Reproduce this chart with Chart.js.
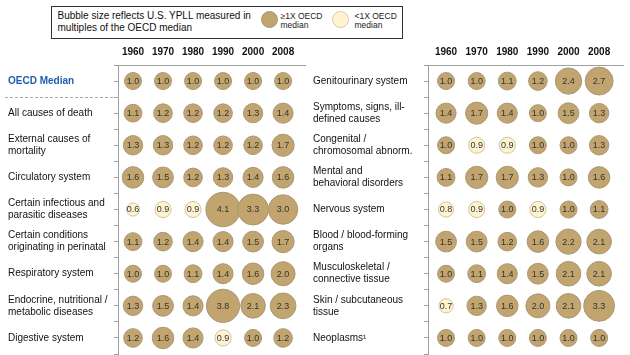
<!DOCTYPE html>
<html>
<head>
<meta charset="utf-8">
<script src="https://cdn.jsdelivr.net/npm/chart.js@4/dist/chart.umd.min.js"></script>
<style>
  html, body { margin:0; padding:0; background:#fff; }
  body { width:630px; height:355px; position:relative; overflow:hidden; font-family: Arial, "Liberation Sans", sans-serif; }
  #left { position:absolute; left:0; top:0; }
  #right { position:absolute; left:310px; top:0; }
  #legend { position:absolute; left:51px; top:6px; width:350px; height:31px; border:1.5px solid #333; background:#fff; z-index:2; }
  #legend .t { position:absolute; left:5.5px; top:2.5px; font-size:10px; line-height:12px; color:#111; white-space:nowrap; }
  #legend .dot { position:absolute; width:17px; height:17px; border-radius:50%; top:4px; box-sizing:border-box; }
  #legend .lab { position:absolute; top:4.75px; font-size:8.5px; line-height:9.5px; color:#222; white-space:nowrap; }
</style>
</head>
<body>
<canvas id="left" width="310" height="355"></canvas>
<canvas id="right" width="320" height="355"></canvas>
<div id="legend">
  <div class="t">Bubble size reflects U.S. YPLL measured in<br>multiples of the OECD median</div>
  <div class="dot" style="left:209px;background:#C2A46E;border:1px solid #A89878;"></div>
  <div class="lab" style="left:228.5px;">≥1X OECD<br>median</div>
  <div class="dot" style="left:280px;background:#FFF4CF;border:1px solid #D6CBA8;"></div>
  <div class="lab" style="left:302.5px;">&lt;1X OECD<br>median</div>
</div>
<script>
const years = ['1960','1970','1980','1990','2000','2008'];

const leftRows = ['OECD Median','All causes of death',['External causes of','mortality'],'Circulatory system',
  ['Certain infectious and','parasitic diseases'],['Certain conditions','originating in perinatal'],
  'Respiratory system',['Endocrine, nutritional /','metabolic diseases'],'Digestive system'];
const leftValues = [
  [1.0,1.0,1.0,1.0,1.0,1.0],
  [1.1,1.2,1.2,1.2,1.3,1.4],
  [1.3,1.3,1.2,1.2,1.2,1.7],
  [1.6,1.5,1.2,1.3,1.4,1.6],
  [0.6,0.9,0.9,4.1,3.3,3.0],
  [1.1,1.2,1.4,1.4,1.5,1.7],
  [1.0,1.0,1.1,1.4,1.6,2.0],
  [1.3,1.5,1.4,3.8,2.1,2.3],
  [1.2,1.6,1.4,0.9,1.0,1.2]
];

const rightRows = ['Genitourinary system',['Symptoms, signs, ill-','defined causes'],['Congenital /','chromosomal abnorm.'],
  ['Mental and','behavioral disorders'],'Nervous system',['Blood / blood-forming','organs'],
  ['Musculoskeletal /','connective tissue'],['Skin / subcutaneous','tissue'],'Neoplasms¹'];
const rightValues = [
  [1.0,1.0,1.1,1.2,2.4,2.7],
  [1.4,1.7,1.4,1.0,1.5,1.3],
  [1.0,0.9,0.9,1.0,1.0,1.3],
  [1.1,1.7,1.7,1.3,1.0,1.6],
  [0.8,0.9,1.0,0.9,1.0,1.1],
  [1.5,1.5,1.2,1.6,2.2,2.1],
  [1.0,1.1,1.4,1.5,2.1,2.1],
  [0.7,1.3,1.6,2.0,2.1,3.3],
  [1.0,1.0,1.0,1.0,1.0,1.0]
];

const FONT = 'Arial, "Liberation Sans", sans-serif';
Chart.defaults.font.family = FONT;

const DARK = '#C2A46E', DARK_B = '#A89878', LIGHT = '#FFF4CF', LIGHT_B = '#D0C49E';

function points(values) {
  const pts = [];
  values.forEach((row, r) => row.forEach((v, c) => pts.push({x: c, y: r, v: v})));
  return pts;
}

const valueLabels = {
  id: 'valueLabels',
  afterDatasetsDraw(chart) {
    const ctx = chart.ctx;
    ctx.save();
    ctx.font = '9px ' + FONT;
    ctx.fillStyle = '#333';
    ctx.textAlign = 'center';
    ctx.textBaseline = 'middle';
    chart.data.datasets.forEach((ds, i) => {
      chart.getDatasetMeta(i).data.forEach((el, j) => {
        ctx.fillText(ds.data[j].v.toFixed(1), el.x, el.y + 0.5);
      });
    });
    ctx.restore();
  }
};

const dashLine = {
  id: 'dashLine',
  afterDraw(chart, args, opts) {
    if (!opts.on) return;
    const ctx = chart.ctx;
    const y = Math.round(chart.scales.y.getPixelForValue(0.5)) + 0.5;
    ctx.save();
    ctx.strokeStyle = '#AAAAAA';
    ctx.lineWidth = 1;
    ctx.setLineDash([3, 2]);
    ctx.beginPath();
    ctx.moveTo(5, y);
    ctx.lineTo(chart.chartArea.left, y);
    ctx.stroke();
    ctx.restore();
  }
};

function zeroPad(s) { s.paddingTop = 0; s.paddingBottom = 0; s.paddingLeft = 0; s.paddingRight = 0; }

function makeChart(id, rows, values, cfg) {
  return new Chart(document.getElementById(id), {
    type: 'bubble',
    data: {
      datasets: [{
        data: points(values),
        radius: c => 8.5 * Math.sqrt(c.raw.v),
        backgroundColor: c => c.raw.v >= 1 ? DARK : LIGHT,
        borderColor: c => c.raw.v >= 1 ? DARK_B : LIGHT_B,
        borderWidth: 1,
        clip: false
      }]
    },
    options: {
      responsive: false,
      animation: false,
      events: [],
      layout: { autoPadding: false, padding: { top: 40, left: cfg.padLeft, right: cfg.padRight, bottom: 1 } },
      plugins: { legend: { display: false }, tooltip: { enabled: false }, dashLine: { on: cfg.dash } },
      scales: {
        x: {
          type: 'linear', position: 'top', min: cfg.xmin, max: cfg.xmax,
          afterBuildTicks: s => { s.ticks = years.map((y, i) => ({value: i})); },
          afterFit: s => { s.height = 25; zeroPad(s); },
          grid: { display: false, drawTicks: false },
          border: { display: true, color: '#A0A0A0', width: 1 },
          ticks: {
            padding: 7, color: '#111', autoSkip: false, maxRotation: 0,
            font: { size: 10, weight: 'bold' },
            callback: v => years[v]
          }
        },
        y: {
          type: 'linear', reverse: true, min: -0.5, max: 8.5,
          afterBuildTicks: s => {
            const t = [];
            for (let i = -0.5; i <= 8.5; i += 0.5) t.push({value: i});
            s.ticks = t;
          },
          afterFit: s => { s.width = cfg.yWidth; zeroPad(s); },
          grid: { drawOnChartArea: false, drawTicks: true, tickLength: 4, color: '#A0A0A0' },
          border: { display: true, color: '#A0A0A0', width: 1 },
          ticks: {
            crossAlign: 'far', autoSkip: false, padding: 4,
            color: c => (cfg.dash && c.tick && c.tick.value === 0) ? '#1F5FAD' : '#111',
            font: c => ({ size: 10, weight: (cfg.dash && c.tick && c.tick.value === 0) ? 'bold' : 'normal', lineHeight: 1.2 }),
            callback: v => Number.isInteger(v) ? rows[v] : ''
          }
        }
      }
    },
    plugins: [valueLabels, dashLine]
  });
}

makeChart('left', leftRows, leftValues, { padLeft: 8, padRight: 5, yWidth: 110, xmin: -0.5, xmax: 5.73, dash: true });
makeChart('right', rightRows, rightValues, { padLeft: 3, padRight: 7, yWidth: 115, xmin: -0.59, xmax: 5.78, dash: false });
</script>
</body>
</html>
